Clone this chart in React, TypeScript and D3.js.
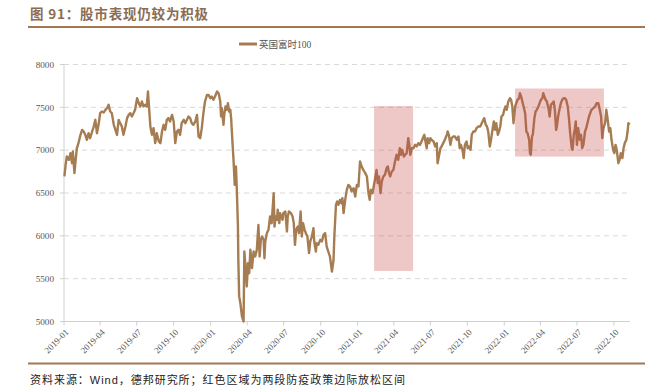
import React from "react";
import * as d3 from "d3";

// FTSE 100 close, sampled; day offsets are calendar days since 2019-01-01
const BASE_DATE = new Date(2019, 0, 1);
const END_DATE = new Date(2022, 10, 10);

const dayOffsets = [
  1, 4, 7, 12, 16, 20, 22, 26, 29, 32, 36, 41, 45, 49, 53, 57, 61, 65, 70, 74, 78, 82, 86, 90, 94, 99, 103, 107, 111, 115, 119, 124, 128, 132, 136, 140, 144, 148, 153, 157, 161, 165, 169, 173, 177, 182, 186, 190, 194, 198, 202, 206, 209, 211, 215, 219, 223, 227, 231, 236, 240, 244, 248, 252, 256, 260, 264, 269, 273, 277, 281, 285, 289, 293, 298, 302, 306, 310, 314, 318, 322, 327, 331, 335, 339, 343, 347, 351, 356, 360, 364, 368, 372,
  376, 381, 385, 389, 391, 393, 397, 399, 402, 405, 408, 411, 414, 416, 420, 422, 425, 428, 430, 433, 434, 436, 439, 443, 447, 449, 453, 455, 458, 461, 464, 468, 472, 476, 480, 484, 487, 490, 493, 497, 499, 501, 505, 509, 513, 517, 522, 524, 527, 530, 532, 536, 538, 541, 544, 546, 551, 555, 557, 560, 565, 569, 572, 575, 578, 582, 585, 589, 592, 595, 599, 602, 606, 610, 613, 617, 621, 623, 627, 629, 633, 638, 642, 646, 650, 654, 658, 662, 667, 671, 673, 677, 680, 683, 687, 690, 693, 696, 700, 704, 708, 712, 716, 721, 725, 729, 733, 737, 741, 745,
  750, 754, 758, 761, 764, 768, 771, 774, 778, 781, 784, 788, 791, 795, 799, 803, 806, 809, 812, 816, 820, 824, 828, 832, 836, 839, 842, 846, 849, 853, 857, 860, 862, 866, 870, 874, 878, 882, 886, 890, 895, 897, 899, 903, 905, 909, 912, 915, 920, 924, 928, 930, 934, 937, 940, 944, 948, 953, 955, 958, 962, 965, 969, 973, 978, 982, 985, 988, 992, 995, 998, 1002, 1005, 1008, 1012, 1015, 1019, 1023, 1027, 1031, 1036, 1040, 1044, 1046, 1050, 1053, 1056, 1060, 1063, 1066, 1070, 1073, 1076, 1080, 1083, 1086, 1089, 1093, 1096, 1099,
  1102, 1106, 1110, 1113, 1116, 1119, 1123, 1126, 1129, 1133, 1135, 1138, 1141, 1144, 1148, 1151, 1154, 1158, 1160, 1162, 1165, 1167, 1171, 1174, 1177, 1181, 1184, 1187, 1191, 1193, 1196, 1199, 1202, 1206, 1209, 1212, 1216, 1219, 1222, 1225, 1227, 1230, 1234, 1237, 1240, 1244, 1247, 1250, 1254, 1257, 1260, 1264, 1266, 1269, 1272, 1274, 1277, 1280, 1284, 1287, 1290, 1293, 1297, 1300, 1303, 1307, 1310, 1313, 1318, 1322, 1326, 1330, 1333, 1337, 1340, 1343, 1347, 1350, 1353, 1357, 1360, 1363, 1367, 1370, 1373, 1376, 1380, 1383, 1386, 1390, 1393, 1396, 1400, 1403, 1405, 1408,
];

const ftse100 = [
  6693, 6829, 6926, 6887, 6965, 6848, 6984, 6732, 6887, 7023, 7082, 7179, 7237, 7218, 7179, 7121, 7198, 7140, 7218, 7276, 7354, 7198, 7296, 7432, 7451, 7440, 7471, 7490, 7529, 7451, 7432, 7296, 7237, 7179, 7354, 7315, 7276, 7179, 7276, 7374, 7412, 7432, 7393, 7432, 7471, 7607, 7549, 7510, 7568, 7510, 7529, 7510, 7685, 7549, 7276, 7179, 7257, 7082, 7198, 7101, 7082, 7218, 7296, 7237, 7354, 7374, 7335, 7412, 7335, 7082, 7218, 7237, 7179, 7315, 7354, 7315, 7354, 7393, 7374, 7315, 7296, 7335, 7412, 7160, 7140, 7257, 7432, 7568, 7646, 7646, 7607, 7626, 7588,
  7626, 7685, 7665, 7568, 7393, 7490, 7296, 7412, 7510, 7471, 7549, 7451, 7471, 7374, 7043, 6887, 6595, 6809, 6576, 6109, 5720, 5296, 5214, 5059, 5000, 5817, 5564, 5409, 5681, 5564, 5837, 5623, 5817, 5759, 5837, 6128, 5759, 5953, 5992, 5953, 5739, 5934, 6031, 6070, 6226, 6148, 6498, 6109, 6226, 6187, 6304, 6148, 6265, 6226, 6187, 6265, 6284, 6051, 6226, 6284, 6265, 6226, 6148, 5895, 6070, 6109, 6031, 6284, 5992, 6148, 6070, 6031, 5992, 5798, 5934, 5992, 6090, 5934, 5817, 5914, 5895, 5953, 5934, 6012, 6031, 5875, 5817, 5759, 5584, 5720, 5992, 6362, 6401, 6362, 6420, 6381, 6440, 6265, 6420, 6537, 6595, 6576, 6518, 6556, 6459, 6595, 6576, 6868, 6809, 6770,
  6732, 6693, 6498, 6420, 6537, 6498, 6576, 6654, 6770, 6615, 6693, 6498, 6634, 6693, 6712, 6790, 6809, 6732, 6693, 6751, 6770, 6868, 6946, 6887, 7023, 6946, 7004, 6926, 6946, 6965, 7140, 7043, 6946, 7023, 7023, 7062, 7043, 7082, 7062, 7101, 7160, 7179, 7121, 7023, 7140, 7082, 7140, 7121, 7101, 7043, 7082, 6848, 6946, 7023, 7043, 7082, 7121, 7179, 7218, 7179, 7062, 7140, 7160, 7160, 7121, 7160, 7023, 7062, 7004, 6907, 7062, 7101, 7023, 7043, 7004, 7179, 7218, 7218, 7257, 7276, 7276, 7315, 7354, 7374, 7296, 7276, 7218, 7043, 7121, 7218, 7335, 7237, 7315, 7179, 7218, 7276, 7393, 7412, 7471, 7510,
  7471, 7568, 7607, 7588, 7510, 7315, 7510, 7549, 7588, 7607, 7665, 7626, 7568, 7510, 7432, 7218, 7198, 7121, 6965, 6946, 7160, 7179, 7374, 7451, 7471, 7510, 7549, 7588, 7607, 7665, 7626, 7588, 7568, 7490, 7393, 7529, 7549, 7568, 7471, 7237, 7276, 7393, 7490, 7549, 7588, 7607, 7607, 7588, 7510, 7374, 7198, 7023, 7004, 7179, 7257, 7335, 7062, 7257, 7121, 7179, 7023, 7062, 7218, 7257, 7315, 7393, 7432, 7471, 7490, 7510, 7549, 7549, 7490, 7393, 7140, 7257, 7315, 7471, 7374, 7218, 7257, 7121, 7004, 6965, 7062, 7004, 6848, 6887, 6965, 6907, 7023, 7082, 7121, 7218, 7315, 7296,
];

const xTickLabels = [
  "2019-01", "2019-04", "2019-07", "2019-10",
  "2020-01", "2020-04", "2020-07", "2020-10",
  "2021-01", "2021-04", "2021-07", "2021-10",
  "2022-01", "2022-04", "2022-07", "2022-10",
];
const yTicks = [5000, 5500, 6000, 6500, 7000, 7500, 8000];

// shaded periods: easing of pandemic restrictions
const shadeStart = ["2021-02-11", "2022-01-28"];
const shadeEnd = ["2021-05-19", "2022-09-06"];
const shadeHigh = [7515, 7720];
const shadeLow = [5590, 6925];

const seriesName = "英国富时100";
const titleText = "图 91：股市表现仍较为积极";
const sourceText = "资料来源：Wind，德邦研究所；红色区域为两段防疫政策边际放松区间";

export default function App() {
  const W = 653;
  const H = 392;
  const left = 64;
  const right = 630;
  const top = 64.5;
  const bottom = 321.5;

  const parseMonth = d3.timeParse("%Y-%m");
  const parseDay = d3.timeParse("%Y-%m-%d");

  const x = d3.scaleTime().domain([BASE_DATE, END_DATE]).range([left, right]);
  const y = d3.scaleLinear().domain([5000, 8000]).range([bottom, top]);

  const data = dayOffsets.map((d, i) => ({
    date: d3.timeDay.offset(BASE_DATE, d),
    v: ftse100[i],
  }));
  const line = d3
    .line<{ date: Date; v: number }>()
    .x((d) => x(d.date))
    .y((d) => y(d.v));

  const lineColor = "#a67c52";
  const serif = "'Liberation Serif', 'Times New Roman', 'Noto Sans CJK SC', serif";
  const sans = "'Liberation Sans', Arial, 'Noto Sans CJK SC', sans-serif";

  return (
    <svg
      width={W}
      height={H}
      viewBox={`0 0 ${W} ${H}`}
      style={{ position: "absolute", left: 0, top: 0, background: "#fff" }}
    >
      <rect x={0} y={0} width={W} height={H} fill="#fff" />
      {/* title */}
      <text
        x={30}
        y={18.5}
        fontFamily="'Noto Sans CJK SC', sans-serif"
        fontWeight="bold"
        fontSize={13.5}
        fill="#8c6d52"
        textLength={178}
        lengthAdjust="spacing"
      >
        {titleText}
      </text>
      <line x1={28} x2={645} y1={27} y2={27} stroke="#a27752" strokeWidth={2} />

      {/* legend */}
      <line x1={239} x2={257} y1={44} y2={44} stroke={lineColor} strokeWidth={3} />
      <text x={259} y={47.5} fontFamily={serif} fontSize={9.5} fill="#555">
        {seriesName}
      </text>

      {/* grid */}
      {yTicks.map((t) => (
        <g key={t}>
          {t !== 5000 && (
            <line
              x1={left}
              x2={right}
              y1={y(t)}
              y2={y(t)}
              stroke="#d9d9d9"
              strokeWidth={1}
              strokeDasharray="5,4"
            />
          )}
          <line x1={left - 4} x2={left} y1={y(t)} y2={y(t)} stroke="#d0d0d0" />
          <text
            x={54}
            y={y(t)}
            dy="0.35em"
            textAnchor="end"
            fontFamily={serif}
            fontSize={9.2}
            fill="#595959"
          >
            {t}
          </text>
        </g>
      ))}

      {/* axes */}
      <line x1={left} x2={left} y1={top} y2={bottom} stroke="#d0d0d0" />
      <line x1={left} x2={right} y1={bottom} y2={bottom} stroke="#d0d0d0" />
      {xTickLabels.map((lbl) => {
        const px = x(parseMonth(lbl) as Date);
        return (
          <g key={lbl}>
            <line x1={px} x2={px} y1={bottom} y2={bottom + 4} stroke="#d0d0d0" />
            <text
              transform={`translate(${px + 3},${bottom + 9}) rotate(-45)`}
              textAnchor="end"
              dy="0.35em"
              fontFamily={serif}
              fontSize={9}
              fill="#595959"
            >
              {lbl}
            </text>
          </g>
        );
      })}

      {/* series */}
      <path
        d={line(data) || ""}
        fill="none"
        stroke={lineColor}
        strokeWidth={2.4}
        strokeLinejoin="round"
      />

      {/* shaded periods */}
      {shadeStart.map((s, i) => {
        const x0 = x(parseDay(s) as Date);
        const x1 = x(parseDay(shadeEnd[i]) as Date);
        return (
          <rect
            key={s}
            x={x0}
            width={x1 - x0}
            y={y(shadeHigh[i])}
            height={y(shadeLow[i]) - y(shadeHigh[i])}
            fill="rgb(200,70,70)"
            fillOpacity={0.3}
          />
        );
      })}

      {/* footer */}
      <line x1={28} x2={645} y1={363.5} y2={363.5} stroke="#a27752" strokeWidth={2} />
      <text
        x={30}
        y={383.5}
        fontFamily={sans}
        fontSize={11}
        fill="#222"
        textLength={375}
        lengthAdjust="spacing"
      >
        {sourceText}
      </text>
    </svg>
  );
}
